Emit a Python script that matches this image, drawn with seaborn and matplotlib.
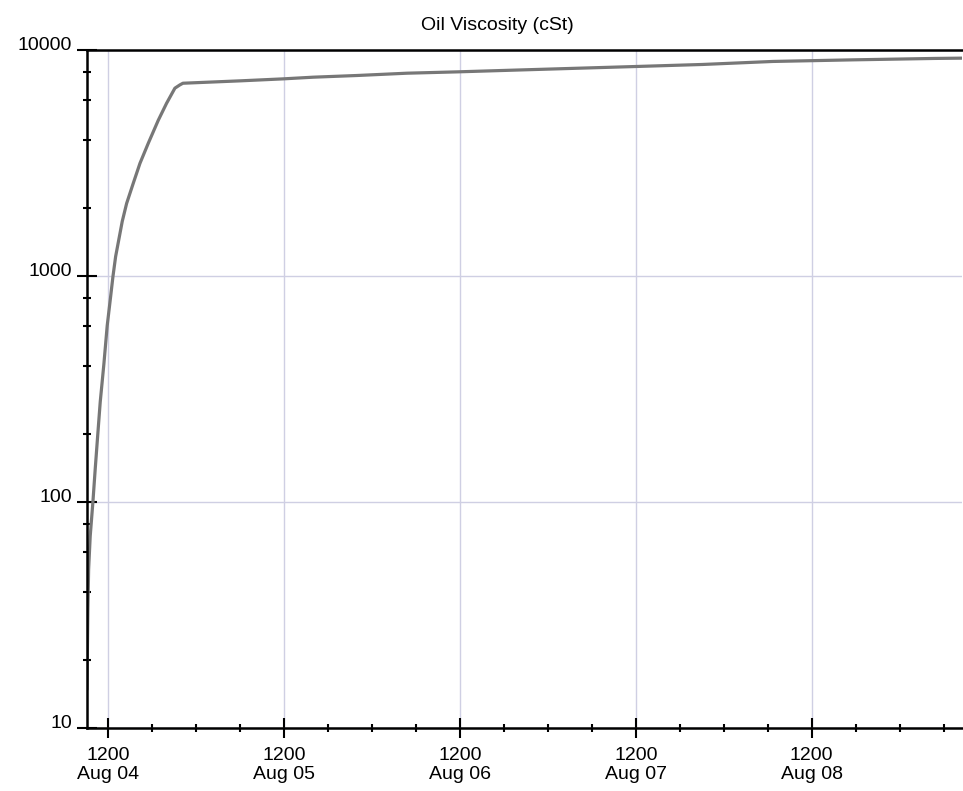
import matplotlib
matplotlib.use("Agg")
import matplotlib.pyplot as plt
import matplotlib.dates as mdates
import matplotlib.ticker as mticker
import pandas as pd
import seaborn as sns

# readings taken off the trace (time stamps and viscosity in cSt)
times = [
    "2009-08-04 09:08", "2009-08-04 09:16", "2009-08-04 09:22", "2009-08-04 09:35",
    "2009-08-04 09:57", "2009-08-04 10:16", "2009-08-04 10:36", "2009-08-04 10:57",
    "2009-08-04 11:27", "2009-08-04 11:54", "2009-08-04 12:22", "2009-08-04 12:41",
    "2009-08-04 13:03", "2009-08-04 13:57", "2009-08-04 14:33", "2009-08-04 15:27",
    "2009-08-04 16:22", "2009-08-04 17:30", "2009-08-04 18:52", "2009-08-04 20:00",
    "2009-08-04 21:08", "2009-08-04 21:49", "2009-08-04 22:14", "2009-08-05 06:00",
    "2009-08-05 11:54", "2009-08-05 16:00", "2009-08-05 22:00", "2009-08-06 04:48",
    "2009-08-06 11:36", "2009-08-06 19:12", "2009-08-07 03:00", "2009-08-07 12:06",
    "2009-08-07 21:06", "2009-08-08 06:42", "2009-08-08 17:36", "2009-08-09 04:48",
    "2009-08-09 08:30",
]
viscosity = [
    14.8, 33.5, 50.4, 70.6,
    99.9, 140, 196, 277,
    408, 602, 809, 993,
    1218, 1741, 2092, 2566,
    3146, 3859, 4880, 5803,
    6766, 6998, 7116, 7290,
    7440, 7568, 7700, 7882,
    7989, 8128, 8271, 8440,
    8615, 8884, 9030, 9161,
    9188,
]
y_ticks = [10, 100, 1000, 10000]
y_tick_labels = ["10", "100", "1000", "10000"]

df = pd.DataFrame({"time": pd.to_datetime(times), "cSt": viscosity})

sns.set_theme(style="white")
plt.rcParams["font.family"] = ["Liberation Sans", "DejaVu Sans"]

fig = plt.figure(figsize=(9.63, 7.91), dpi=100)
ax = fig.add_axes([0.090, 0.0797, 0.909, 0.8573])

sns.lineplot(data=df, x="time", y="cSt", ax=ax, color="#777777", linewidth=2.3)

ax.set_yscale("log")
ax.set_ylim(10, 10000)
ax.set_xlim(pd.Timestamp("2009-08-04 09:06"), pd.Timestamp("2009-08-09 08:30"))

ax.set_yticks(y_ticks)
ax.set_yticklabels(y_tick_labels)
ax.yaxis.set_minor_locator(mticker.LogLocator(base=10, subs=[2, 4, 6, 8]))
ax.yaxis.set_minor_formatter(mticker.NullFormatter())

ax.xaxis.set_major_locator(mdates.HourLocator(byhour=[12]))
ax.xaxis.set_minor_locator(mdates.HourLocator(byhour=[0, 6, 18]))
ax.xaxis.set_major_formatter(mdates.DateFormatter("%H%M\n%b %d"))

# seaborn's white style switches tick marks off, turn them back on
ax.tick_params(bottom=True, left=True, top=False, right=False, which="both")
ax.tick_params(axis="both", which="major", direction="inout", length=15,
               width=1.5, color="black", labelsize=14, labelcolor="black")
ax.tick_params(axis="both", which="minor", direction="inout", length=6,
               width=1.5, color="black")
ax.tick_params(axis="x", which="major", pad=6)
ax.tick_params(axis="y", which="major", pad=3)
for lab in ax.get_yticklabels():
    lab.set_verticalalignment("baseline")

ax.grid(True, which="major", color="#cfcfe3", linewidth=1.0)
ax.set_xlabel("")
ax.set_ylabel("")

for side in ["left", "bottom", "top"]:
    ax.spines[side].set_visible(True)
    ax.spines[side].set_color("black")
    ax.spines[side].set_linewidth(1.8)
ax.spines["right"].set_visible(False)

fig.text(497 / 963, 1 - 30 / 791, "Oil Viscosity (cSt)", ha="center",
         va="baseline", fontsize=14, color="black")

fig.savefig("out.png", dpi=100, facecolor="white")
